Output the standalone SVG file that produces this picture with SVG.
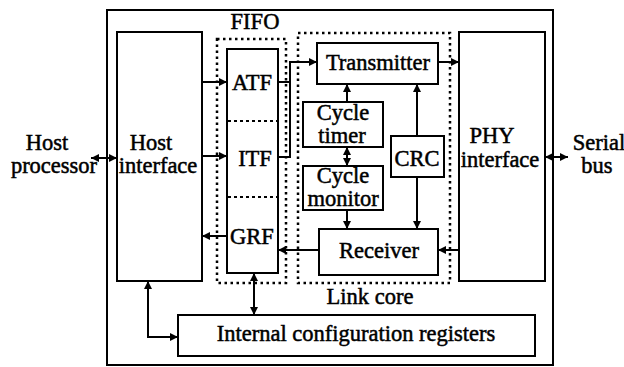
<svg xmlns="http://www.w3.org/2000/svg" width="624" height="367" viewBox="0 0 624 367">
<style>
.box{fill:none;stroke:#000;stroke-width:2}
.dot{fill:none;stroke:#000;stroke-width:2.5;stroke-dasharray:2.5,3.5}
.dsep{fill:none;stroke:#000;stroke-width:1.8;stroke-dasharray:3,3}
.ln{fill:none;stroke:#000;stroke-width:2}
text{font-family:"Liberation Serif","Times New Roman",serif;font-size:22.5px;fill:#000;text-anchor:middle;stroke:#000;stroke-width:0.5}
</style>
<defs>
<marker id="ah" viewBox="0 0 10 10" refX="10" refY="5" markerWidth="4" markerHeight="4" orient="auto-start-reverse" markerUnits="strokeWidth">
<path d="M0,0 L10,5 L0,10 z" fill="#000"/>
</marker>
</defs>
<rect x="0" y="0" width="624" height="367" fill="#fff"/>
<g id="outer"><rect class="box" x="107" y="10" width="446" height="355"/></g>
<g id="host-processor"><text x="47" y="150">Host</text><text x="54" y="173">processor</text></g>
<g id="host-interface"><rect class="box" x="117" y="32" width="85" height="249"/><text x="151" y="150">Host</text><text x="158" y="173">interface</text></g>
<g id="fifo"><rect class="dot" x="217" y="39" width="69" height="244"/><text x="255" y="29">FIFO</text></g>
<g id="fifo-blocks"><rect class="box" x="227" y="49" width="51" height="224"/>
<line class="dsep" x1="228" y1="121" x2="277" y2="121"/><line class="dsep" x1="228" y1="197" x2="277" y2="197"/>
<text x="252" y="90">ATF</text><text x="255" y="166">ITF</text><text x="252" y="244">GRF</text></g>
<g id="link-core"><rect class="dot" x="298" y="33" width="152" height="250"/><text x="370" y="304">Link core</text></g>
<g id="transmitter"><rect class="box" x="317" y="43" width="121" height="41"/><text x="378" y="70">Transmitter</text></g>
<g id="cycle-timer"><rect class="box" x="303" y="102" width="80" height="45"/><text x="343" y="120">Cycle</text><text x="342" y="143">timer</text></g>
<g id="cycle-monitor"><rect class="box" x="303" y="166" width="80" height="44"/><text x="343" y="183">Cycle</text><text x="343" y="206">monitor</text></g>
<g id="crc"><rect class="box" x="391" y="136" width="53" height="41"/><text x="417" y="166">CRC</text></g>
<g id="receiver"><rect class="box" x="319" y="229" width="119" height="46"/><text x="379" y="258">Receiver</text></g>
<g id="phy"><rect class="box" x="459" y="32" width="86" height="249"/><text x="492" y="143">PHY</text><text x="500" y="167">interface</text></g>
<g id="serial-bus"><text x="599" y="150">Serial</text><text x="597" y="173">bus</text></g>
<g id="config"><rect class="box" x="178" y="315" width="357" height="41"/><text x="356" y="341">Internal configuration registers</text></g>
<g id="connectors">
<line class="ln" x1="91" y1="158" x2="117" y2="158" marker-start="url(#ah)" marker-end="url(#ah)"/>
<line class="ln" x1="202" y1="82" x2="227" y2="82" marker-end="url(#ah)"/>
<line class="ln" x1="202" y1="156" x2="227" y2="156" marker-end="url(#ah)"/>
<line class="ln" x1="227" y1="236" x2="202" y2="236" marker-end="url(#ah)"/>
<polyline class="ln" points="278,82 290,82"/>
<polyline class="ln" points="278,157 290,157 290,62 317,62" marker-end="url(#ah)"/>
<line class="ln" x1="438" y1="62" x2="459" y2="62" marker-end="url(#ah)"/>
<line class="ln" x1="347" y1="102" x2="347" y2="84" marker-end="url(#ah)"/>
<line class="ln" x1="347" y1="147" x2="347" y2="166" marker-start="url(#ah)" marker-end="url(#ah)"/>
<line class="ln" x1="347" y1="210" x2="347" y2="229" marker-end="url(#ah)"/>
<line class="ln" x1="417" y1="136" x2="417" y2="84" marker-end="url(#ah)"/>
<line class="ln" x1="417" y1="177" x2="417" y2="229" marker-end="url(#ah)"/>
<line class="ln" x1="319" y1="250" x2="278" y2="250" marker-end="url(#ah)"/>
<line class="ln" x1="459" y1="250" x2="438" y2="250" marker-end="url(#ah)"/>
<line class="ln" x1="545" y1="157" x2="568" y2="157" marker-start="url(#ah)" marker-end="url(#ah)"/>
<line class="ln" x1="254" y1="273" x2="254" y2="315" marker-start="url(#ah)" marker-end="url(#ah)"/>
<polyline class="ln" points="148,281 148,337 178,337" marker-start="url(#ah)" marker-end="url(#ah)"/>
</g>
</svg>
